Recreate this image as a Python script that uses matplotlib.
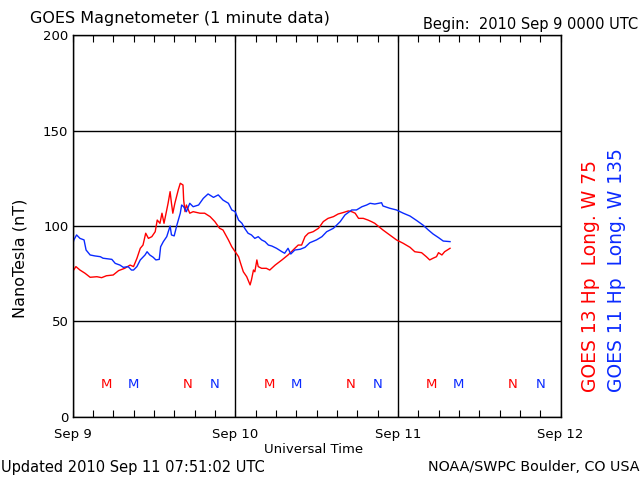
import numpy as np
import matplotlib
matplotlib.use("Agg")
import matplotlib.pyplot as plt

# hours since 2010 Sep 9 0000 UTC
g13_t = [0, 0.5, 1.1, 1.85, 2.6, 3.6, 4.3, 5.0, 6.0, 6.8, 7.7, 8.5, 9.0, 9.5, 10.0, 10.4,
         10.8, 11.2, 11.7, 12.2, 12.5, 12.9, 13.2, 13.5, 13.9, 14.1, 14.4, 14.6, 14.8, 15.1,
         15.6, 15.9, 16.3, 16.4, 16.6, 16.8, 17.1, 17.3, 17.8, 18.8, 19.5, 20.3, 21.0, 21.7,
         22.2, 23.0, 23.5, 24.0, 24.5, 24.8, 25.2, 25.7, 26.2, 26.4, 26.7, 26.9, 27.2, 27.4,
         27.9, 28.6, 29.1, 29.9, 30.9, 31.8, 32.3, 32.8, 33.3, 33.8, 34.3, 34.8, 35.5, 36.3,
         37.0, 37.7, 38.5, 39.2, 39.9, 40.7, 41.2, 41.7, 42.2, 42.9, 43.6, 44.1, 44.6, 44.9,
         45.8, 46.8, 47.8, 48.8, 49.8, 50.5, 51.5, 52.2, 52.7, 53.2, 53.7, 54.0, 54.5, 54.9, 55.7]
g13_v = [76.0, 78.7, 76.9, 75.2, 73.1, 73.4, 72.9, 73.9, 74.3, 76.6, 77.8, 79.5, 78.7, 83.0, 88.3, 90.0,
         96.2, 93.5, 94.4, 97.0, 103.1, 101.4, 106.7, 101.4, 108.4, 111.9, 118.0, 111.9, 106.7, 111.9,
         118.9, 122.4, 121.5, 113.6, 107.5, 111.0, 108.4, 106.7, 107.5, 106.7, 106.7, 104.9, 102.3, 98.8,
         97.9, 92.7, 89.1, 86.5, 83.9, 80.4, 76.0, 73.4, 69.1, 71.7, 76.9, 76.0, 82.2, 78.7,
         77.8, 77.8, 76.9, 79.5, 82.2, 84.8, 86.5, 88.3, 90.0, 90.0, 94.4, 96.2, 97.0, 98.8,
         102.3, 104.0, 104.9, 106.3, 107.0, 107.9, 107.5, 106.7, 104.0, 104.0, 103.1, 102.3, 101.4, 100.5,
         97.9, 95.3, 92.7, 90.9, 88.8, 86.5, 86.0, 83.9, 82.2, 83.1, 83.9, 86.0, 84.8, 86.5, 88.3]

g11_t = [0, 0.2, 0.6, 1.1, 1.7, 2.0, 2.6, 3.3, 4.1, 4.5, 5.8, 6.3, 7.0, 7.5, 8.2, 8.7, 9.0, 9.5,
         10.0, 10.7, 11.0, 11.4, 11.9, 12.3, 12.8, 13.0, 13.4, 13.9, 14.4, 14.6, 15.0, 15.4, 15.9,
         16.1, 16.4, 16.8, 17.3, 17.8, 18.6, 19.3, 20.0, 20.8, 21.5, 22.2, 23.0, 23.5, 24.0, 24.5,
         25.0, 25.4, 25.9, 26.4, 26.9, 27.4, 27.9, 28.4, 28.9, 29.4, 30.1, 30.9, 31.3, 31.8, 32.2,
         32.8, 33.6, 34.3, 35.0, 36.0, 36.8, 37.5, 38.5, 39.5, 40.2, 41.2, 41.9, 42.7, 43.4, 43.9,
         44.6, 45.6, 45.8, 46.8, 47.8, 48.8, 49.8, 50.8, 51.7, 52.5, 53.2, 54.0, 54.7, 55.7]
g11_v = [90.0, 92.7, 95.3, 93.5, 92.7, 87.4, 84.8, 84.3, 83.9, 83.1, 82.5, 80.4, 79.5, 78.3, 78.7, 76.9, 76.9, 78.7,
         82.2, 84.8, 86.5, 84.8, 83.6, 82.2, 82.5, 89.1, 91.8, 94.4, 100.0, 95.3, 94.8, 100.5, 106.7,
         111.0, 110.1, 107.5, 111.9, 110.1, 111.0, 114.5, 116.8, 115.0, 116.3, 113.6, 111.9, 108.4, 107.5, 103.1,
         101.4, 98.8, 96.2, 95.3, 93.5, 94.4, 92.7, 91.8, 90.0, 89.5, 88.3, 86.5, 85.7, 88.3, 85.3,
         87.4, 87.8, 88.8, 91.2, 92.7, 94.4, 97.0, 98.8, 102.3, 105.8, 108.4, 108.4, 110.1, 111.0, 111.9,
         111.5, 112.2, 110.5, 109.3, 108.4, 106.7, 105.2, 102.8, 100.5, 97.9, 95.8, 93.9, 92.1, 91.8]

# local midnight (M) and noon (N) marks, hours UTC
g13_marks = [(5, "M"), (17, "N")]
g11_marks = [(9, "M"), (21, "N")]
day_labels = ["Sep 9", "Sep 10", "Sep 11", "Sep 12"]

RED = "#ff0000"
BLUE = "#0a2aff"

fig = plt.figure(figsize=(6.4, 4.8), dpi=100)
ax = fig.add_axes([0.1133, 0.1319, 0.7625, 0.7946])

ax.plot(g13_t, g13_v, color=RED, lw=1.0)
ax.plot(g11_t, g11_v, color=BLUE, lw=1.0)

for day in range(3):
    for h, m in g13_marks:
        ax.text(h + 24 * day, 17, m, color=RED, ha="center", va="center", fontsize=9.5)
    for h, m in g11_marks:
        ax.text(h + 24 * day, 17, m, color=BLUE, ha="center", va="center", fontsize=9.5)

ax.set_xlim(0, 72)
ax.set_ylim(0, 200)
ax.set_xticks([0, 24, 48, 72])
ax.set_xticklabels(day_labels, fontsize=9.5)
ax.set_xticks(np.arange(0, 73, 3), minor=True)
ax.set_yticks([0, 50, 100, 150, 200])
ax.set_yticklabels(["0", "50", "100", "150", "200"], fontsize=9.5)
ax.tick_params(axis="x", which="both", direction="in", top=True, length=5, width=0.8, pad=8)
ax.tick_params(axis="y", which="both", length=0, pad=3)
ax.grid(True, which="major", color="black", lw=1.0)
for s in ax.spines.values():
    s.set_linewidth(1.0)

fig.text(0.047, 0.962, "GOES Magnetometer (1 minute data)", fontsize=11.5, ha="left", va="center")
fig.text(0.997, 0.950, "Begin:  2010 Sep 9 0000 UTC", fontsize=10.5, ha="right", va="center")
fig.text(0.49, 0.064, "Universal Time", fontsize=9.5, ha="center", va="center")
fig.text(0.002, 0.027, "Updated 2010 Sep 11 07:51:02 UTC", fontsize=10.5, ha="left", va="center")
fig.text(0.999, 0.027, "NOAA/SWPC Boulder, CO USA", fontsize=10.3, ha="right", va="center")
fig.text(0.032, 0.462, "NanoTesla (nT)", fontsize=11.5, rotation=90, ha="center", va="center")
fig.text(0.923, 0.183, "GOES 13 Hp  Long. W 75", color=RED, fontsize=13.5, rotation=90,
         ha="center", va="bottom")
fig.text(0.964, 0.183, "GOES 11 Hp  Long. W 135", color=BLUE, fontsize=13.5, rotation=90,
         ha="center", va="bottom")

fig.savefig("out.png", dpi=100)
